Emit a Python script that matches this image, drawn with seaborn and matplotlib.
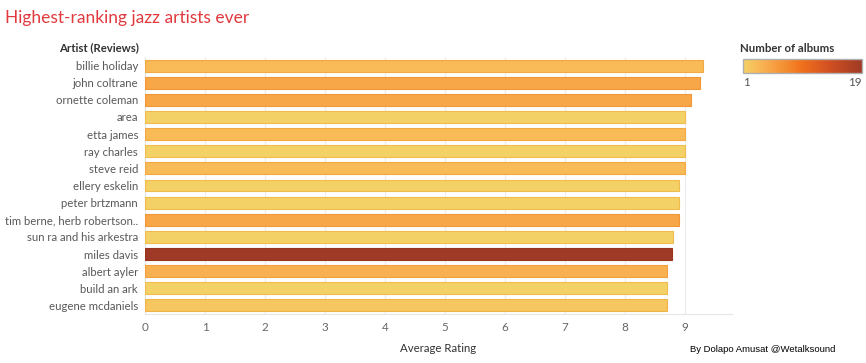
import numpy as np
import pandas as pd
import seaborn as sns
import matplotlib.pyplot as plt
from matplotlib.colors import LinearSegmentedColormap, Normalize, to_rgb
from matplotlib.cm import ScalarMappable

artists = ["billie holiday", "john coltrane", "ornette coleman", "area", "etta james",
           "ray charles", "steve reid", "ellery eskelin", "peter brtzmann",
           "tim berne, herb robertson..", "sun ra and his arkestra", "miles davis",
           "albert ayler", "build an ark", "eugene mcdaniels"]
ratings = [9.29, 9.24, 9.10, 9.0, 9.0, 9.0, 9.0, 8.89, 8.89, 8.89, 8.8, 8.78, 8.7, 8.7, 8.7]
albums = [3, 5, 5, 1, 3, 1, 3, 1, 1, 5, 1, 19, 4, 1, 2]

df = pd.DataFrame({"Artist": artists, "Rating": ratings, "Albums": albums})

gold_red = ["#f4d166", "#f6c760", "#f8bc58", "#f8b252", "#f7a84a", "#f69e41", "#f49538",
            "#f38b2f", "#f28026", "#f0751e", "#eb6c1c", "#e4641e", "#de5d1f", "#d75521",
            "#cf4f22", "#c64a22", "#bc4623", "#b24223", "#a83e24", "#9e3a26"]
cmap = LinearSegmentedColormap.from_list("goldred", gold_red)
norm = Normalize(vmin=1, vmax=19)
palette = {a: cmap(norm(n)) for a, n in zip(artists, albums)}

sns.set_style("white")
plt.rcParams["font.family"] = ["Lato", "DejaVu Sans"]

fig = plt.figure(figsize=(8.66, 3.63), dpi=100)
ax = fig.add_axes([145 / 866, 1 - 314 / 363, 587 / 866, 257 / 363])

sns.barplot(data=df, x="Rating", y="Artist", hue="Artist", palette=palette,
            legend=False, width=0.7, saturation=1, ax=ax, zorder=3)

# thin outline a touch darker than the fill
for patch in ax.patches:
    r, g, b = to_rgb(patch.get_facecolor())
    patch.set_edgecolor((r * 0.98, g * 0.9, b * 0.75))
    patch.set_linewidth(0.8)

ax.set_xlim(0, 9.78)
ax.set_ylim(14.5, -0.5)
ax.set_xticks(range(10))
ax.grid(axis="x", color="#ececec", linewidth=0.8, zorder=0)
for s in ["top", "right"]:
    ax.spines[s].set_visible(False)
ax.spines["left"].set_color("#e6e6e6")
ax.spines["bottom"].set_color("#e6e6e6")
ax.tick_params(axis="x", length=0, pad=6, labelsize=8.4, labelcolor="#666666")
ax.tick_params(axis="y", length=0, pad=5, labelsize=8.2, labelcolor="#595959")
ax.set_ylabel("")
ax.set_xlabel("Average Rating", fontsize=8.2, color="#333333", labelpad=7)

fig.text(139 / 866, 1 - 48 / 363, "Artist (Reviews)", ha="right", va="center",
         fontsize=8.2, fontweight="bold", color="#333333")
fig.text(5 / 866, 1 - 18 / 363, "Highest-ranking jazz artists ever", ha="left",
         va="center", fontsize=12.5, color="#e0393e")
fig.text(690 / 866, 1 - 349 / 363, "By Dolapo Amusat @Wetalksound", ha="left",
         va="center", fontsize=6.8, color="black",
         family=["Liberation Sans Narrow", "Liberation Sans", "DejaVu Sans"])

# colour legend
fig.text(740 / 866, 1 - 49 / 363, "Number of albums", ha="left", va="center",
         fontsize=8.2, fontweight="bold", color="#333333")
cax = fig.add_axes([743 / 866, 1 - 73 / 363, 119 / 866, 14 / 363])
sm = ScalarMappable(norm=norm, cmap=cmap)
cb = fig.colorbar(sm, cax=cax, orientation="horizontal", ticks=[1, 19])
cb.outline.set_edgecolor("#b0b0b0")
cb.outline.set_linewidth(1.0)
cax.tick_params(length=0, labelsize=8.4, labelcolor="#555555", pad=3)
tl = cax.get_xticklabels()
tl[0].set_ha("left")
tl[-1].set_ha("right")

plt.savefig("out.png", dpi=100)
plt.close()
